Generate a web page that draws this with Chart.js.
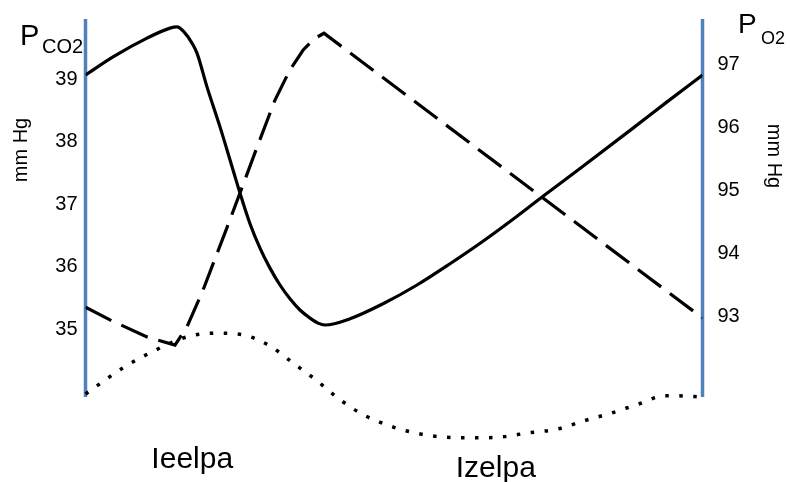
<!DOCTYPE html>
<html>
<head>
<meta charset="utf-8">
<script src="https://cdn.jsdelivr.net/npm/chart.js@4/dist/chart.umd.min.js"></script>
<style>
  html, body { margin: 0; padding: 0; background: #ffffff; }
  #wrap { width: 790px; height: 482px; }
</style>
</head>
<body>
<div id="wrap"><canvas id="chart" width="790" height="482"></canvas></div>
<script>
// Time runs along x from 0 (start of Ieelpa) to 100 (end of Izelpa)

// PCO2 (mm Hg), left axis
const pco2Time   = [0, 4.46, 9.97, 13.7, 14.83, 15.96, 17.26, 18.07, 19.69, 21.8, 23.91, 25.04, 26.66, 28.28, 29.9, 31.52, 33.14, 34.76, 36.39, 37.68, 38.82, 42.87, 48.22, 53.73, 59.08, 64.42, 69.94, 74.15, 80.63, 88.74, 94.25, 100];
const pco2Values = [39.0, 39.29, 39.59, 39.75, 39.77, 39.69, 39.51, 39.35, 38.81, 38.17, 37.48, 37.11, 36.62, 36.23, 35.91, 35.64, 35.42, 35.24, 35.11, 35.03, 35.0, 35.1, 35.34, 35.64, 35.98, 36.34, 36.74, 37.06, 37.54, 38.15, 38.57, 39.0];

// PO2 (mm Hg), right axis
const po2Time   = [0, 3.97, 9.97, 14.51, 16.45, 19.04, 23.42, 27.8, 30.71, 33.14, 35.25, 37.03, 38.65, 100];
const po2Values = [93.17, 92.97, 92.7, 92.57, 92.86, 93.44, 94.56, 95.71, 96.46, 96.94, 97.25, 97.43, 97.52, 93.0];

// Unscaled third trace (relative units)
const relTime   = [0, 6.08, 10.13, 16.45, 21.15, 25.69, 29.9, 33.63, 37.36, 40.92, 44.81, 48.87, 53.4, 57.94, 62.64, 67.18, 71.72, 76.42, 80.79, 85.33, 89.55, 93.92, 96.19, 100];
const relValues = [20.8, 27.7, 31.4, 35.9, 36.9, 36.4, 33.5, 29.0, 24.5, 19.7, 15.5, 12.6, 10.5, 9.4, 9.2, 9.4, 10.5, 11.5, 13.7, 15.8, 18.1, 20.3, 20.3, 20.0];

// Axis ticks
const pco2Ticks = [35, 36, 37, 38, 39];
const po2Ticks  = [93, 94, 95, 96, 97];

// Phase names and their centres on the time axis
const phaseNames   = ['Ieelpa', 'Izelpa'];
const phaseCenters = [17.3, 66.5];

const FONT = '"Liberation Sans", Arial, Helvetica, sans-serif';
const pts = (xs, ys) => xs.map((x, i) => ({ x: x, y: ys[i] }));

const decor = {
  id: 'decor',
  beforeDatasetsDraw(chart) {
    const { ctx, chartArea: a } = chart;
    ctx.save();
    ctx.strokeStyle = '#4F81BD';
    ctx.lineWidth = 3.5;
    [a.left, a.right].forEach(x => {
      ctx.beginPath();
      ctx.moveTo(x, a.top);
      ctx.lineTo(x, a.bottom);
      ctx.stroke();
    });
    ctx.restore();
  },
  afterDraw(chart) {
    const { ctx } = chart;
    const xs = chart.scales.x;
    ctx.save();
    ctx.fillStyle = '#000000';
    ctx.textBaseline = 'alphabetic';
    ctx.textAlign = 'left';

    // Axis headers
    ctx.font = '29px ' + FONT;
    ctx.fillText('P', 20, 45);
    ctx.font = '20px ' + FONT;
    ctx.fillText('CO2', 42, 53);
    ctx.font = '28px ' + FONT;
    ctx.fillText('P', 738, 33);
    ctx.font = '18px ' + FONT;
    ctx.fillText('O2', 761, 44);

    // Units
    ctx.font = '20px ' + FONT;
    ctx.textAlign = 'center';
    ctx.textBaseline = 'middle';
    ctx.save();
    ctx.translate(21, 150);
    ctx.rotate(-Math.PI / 2);
    ctx.fillText('mm Hg', 0, 0);
    ctx.restore();
    ctx.save();
    ctx.translate(774, 156);
    ctx.rotate(Math.PI / 2);
    ctx.fillText('mm Hg', 0, 0);
    ctx.restore();

    // Phase names under the time axis
    ctx.font = '30px ' + FONT;
    ctx.textBaseline = 'alphabetic';
    const baselines = [468, 477];
    phaseNames.forEach((name, i) => {
      ctx.fillText(name, xs.getPixelForValue(phaseCenters[i]), baselines[i]);
    });
    ctx.restore();
  }
};

// Fixed axis widths, no extra padding from tick labels
const fitAxis = w => s => {
  s.width = w;
  s.paddingTop = 0;
  s.paddingBottom = 0;
};

new Chart(document.getElementById('chart'), {
  type: 'line',
  data: {
    datasets: [
      {
        label: 'PCO2',
        data: pts(pco2Time, pco2Values),
        yAxisID: 'yCO2',
        borderColor: '#000000',
        borderWidth: 3.2,
        cubicInterpolationMode: 'monotone',
        pointRadius: 0,
        fill: false
      },
      {
        label: 'PO2',
        data: pts(po2Time, po2Values),
        yAxisID: 'yO2',
        borderColor: '#000000',
        borderWidth: 3.2,
        borderDash: [29, 11],
        borderCapStyle: 'butt',
        tension: 0,
        pointRadius: 0,
        fill: false
      },
      {
        label: 'relative',
        data: pts(relTime, relValues),
        yAxisID: 'yRel',
        borderColor: '#000000',
        borderWidth: 3.5,
        borderDash: [3.5, 10.5],
        borderCapStyle: 'butt',
        cubicInterpolationMode: 'monotone',
        pointRadius: 0,
        fill: false,
        clip: false
      }
    ]
  },
  options: {
    responsive: false,
    animation: false,
    devicePixelRatio: 1,
    layout: { padding: { top: 19, bottom: 85, left: 0, right: 0 } },
    plugins: { legend: { display: false }, tooltip: { enabled: false } },
    scales: {
      x: { type: 'linear', min: 0, max: 100, display: false },
      yCO2: {
        type: 'linear',
        position: 'left',
        min: 33.848,
        max: 39.896,
        grid: { display: false, drawTicks: false },
        border: { display: false },
        afterBuildTicks: s => { s.ticks = pco2Ticks.map(v => ({ value: v })); },
        afterFit: fitAxis(85.5),
        ticks: {
          color: '#000000',
          font: { family: FONT, size: 20 },
          padding: 8,
          labelOffset: 4,
          callback: v => String(v)
        }
      },
      yO2: {
        type: 'linear',
        position: 'right',
        min: 91.746,
        max: 97.746,
        grid: { display: false, drawTicks: false },
        border: { display: false },
        afterBuildTicks: s => { s.ticks = po2Ticks.map(v => ({ value: v })); },
        afterFit: fitAxis(87.5),
        ticks: {
          color: '#000000',
          font: { family: FONT, size: 20 },
          padding: 15,
          labelOffset: -2,
          callback: v => String(v)
        }
      },
      yRel: { type: 'linear', min: 20, max: 120, display: false }
    }
  },
  plugins: [decor]
});
</script>
</body>
</html>
